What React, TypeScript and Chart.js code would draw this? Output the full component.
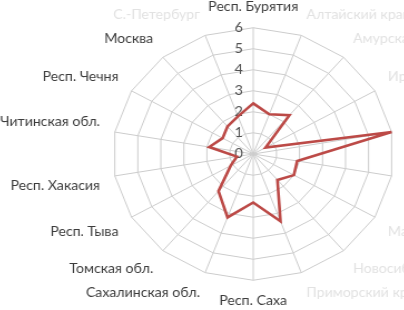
import React, { useEffect, useRef } from "react";
import { Chart, registerables } from "chart.js";

Chart.register(...registerables);

// Categories (clockwise from the top)
const categories: string[] = [
  "Респ. Бурятия",
  "Алтайский край",
  "Амурская обл.",
  "Иркутская обл.",
  "Камчатский край",
  "Красноярский край",
  "Магаданская обл.",
  "Новосибирская обл.",
  "Приморский край",
  "Респ. Саха",
  "Сахалинская обл.",
  "Томская обл.",
  "Респ. Тыва",
  "Респ. Хакасия",
  "Читинская обл.",
  "Респ. Чечня",
  "Москва",
  "С.-Петербург",
];

// Series values
const values: number[] = [
  2.4, 2.0, 2.4, 0.6, 6.0, 1.9, 2.0, 1.6, 3.4, 2.3, 3.2, 2.3, 1.1, 0.7, 1.9, 1.5,
  1.7, 1.9,
];

// Tick labels
const tickLabels: string[] = ["0", "1", "2", "3", "4", "5", "6"];

// Labels that are faded (partly erased) in the reference picture
const fadedLabels: string[] = [
  "Алтайский край",
  "Амурская обл.",
  "Иркутская обл.",
  "Камчатский край",
  "Красноярский край",
  "Магаданская обл.",
  "Новосибирская обл.",
  "Приморский край",
  "С.-Петербург",
];

const STRETCH_X = 1.113;
const INNER_W = 800;
const CENTER_X = 253;

export default function App() {
  const canvasRef = useRef<HTMLCanvasElement | null>(null);

  useEffect(() => {
    const canvas = canvasRef.current;
    if (!canvas) return;
    const chart = new Chart(canvas, {
      type: "radar",
      data: {
        labels: categories,
        datasets: [
          {
            data: values,
            borderColor: "#bc4a47",
            borderWidth: 2.6,
            backgroundColor: "rgba(0,0,0,0)",
            pointRadius: 0,
            pointHoverRadius: 0,
            fill: false,
            tension: 0,
          },
        ],
      },
      options: {
        animation: false,
        responsive: true,
        maintainAspectRatio: false,
        layout: { padding: 0 },
        plugins: {
          legend: { display: false },
          tooltip: { enabled: false },
        },
        scales: {
          r: {
            min: -0.01,
            max: 6,
            ticks: {
              stepSize: 1,
              includeBounds: false,
              showLabelBackdrop: false,
              color: "#505050",
              font: { family: "Lato", size: 13 },
              callback: (v: any) => {
                const n = Math.round(Number(v));
                if (Math.abs(Number(v) - n) > 1e-6) return "";
                const lbl = tickLabels[n];
                return lbl === undefined ? "" : lbl + "\u2003\u2003\u2002";
              },
            },
            grid: { color: "#cccccc", lineWidth: 1 },
            angleLines: { color: "#cccccc", lineWidth: 1 },
            pointLabels: {
              padding: 5,
              font: { family: "Lato", size: 12.7 },
              color: (ctx: any) =>
                fadedLabels.includes(ctx.label) ? "#e2e2e2" : "#3c3c3c",
            },
          },
        },
      },
    });
    return () => chart.destroy();
  }, []);

  return (
    <div
      style={{
        position: "fixed",
        left: 0,
        top: 0,
        width: 404,
        height: 310,
        overflow: "hidden",
        background: "#ffffff",
      }}
    >
      <div
        style={{
          position: "absolute",
          left: CENTER_X - (INNER_W / 2) * STRETCH_X,
          top: 0,
          width: INNER_W,
          height: 310,
          transform: `scaleX(${STRETCH_X})`,
          transformOrigin: "0 0",
        }}
      >
        <canvas ref={canvasRef} />
      </div>
    </div>
  );
}
